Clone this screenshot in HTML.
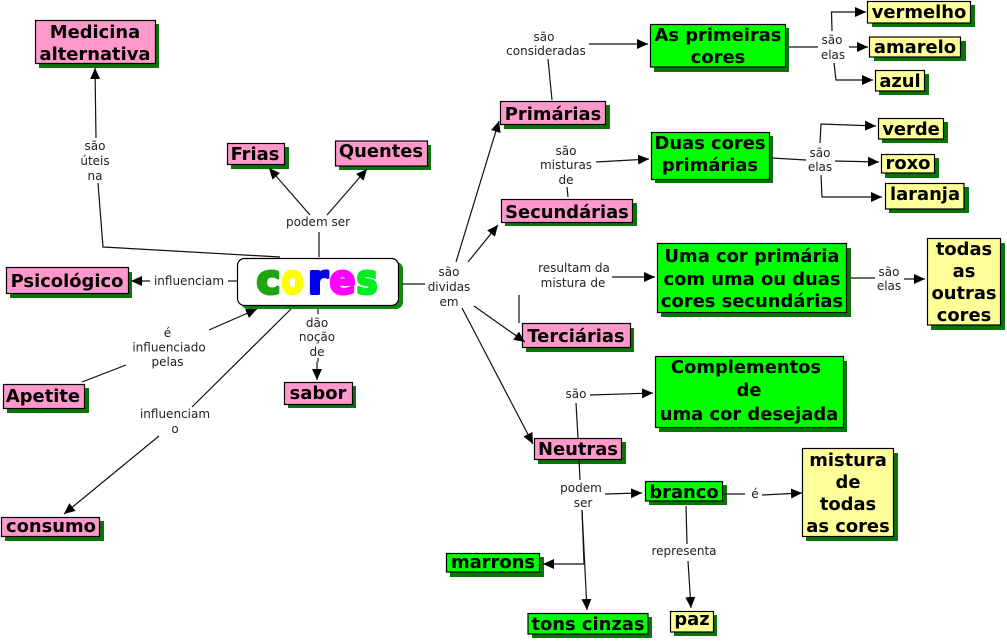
<!DOCTYPE html>
<html><head><meta charset="utf-8"><style>
html,body{margin:0;padding:0;background:#fff;width:1007px;height:641px;overflow:hidden}
svg{display:block}
text{font-family:"DejaVu Sans",sans-serif;text-anchor:middle}
.n{font-size:17.9px;font-weight:bold;fill:#000}
.l{font-size:12px;fill:#222}
.c{stroke:#111;stroke-width:1.2;fill:none}
.a{stroke:#111;stroke-width:1.2;fill:none;marker-end:url(#m)}
.s{fill:#0a730a}
.b{stroke:#000;stroke-width:1.2}
.p{fill:#ff99cc}.g{fill:#00ff00}.y{fill:#ffff99}
.t{stroke-width:3;stroke-linejoin:round}
</style></head><body>
<svg width="1007" height="641" viewBox="0 0 1007 641" xmlns="http://www.w3.org/2000/svg">
<defs><marker id="m" markerWidth="12" markerHeight="11" refX="11" refY="5.5" orient="auto" markerUnits="userSpaceOnUse"><polygon points="0,0.5 11,5.5 0,10.5" fill="#000"/></marker></defs>
<g>
<rect class="s" x="39" y="24" width="120" height="44"/><rect class="b p" x="35.5" y="20.5" width="120" height="43"/>
<rect class="s" x="231" y="147" width="58" height="22"/><rect class="b p" x="227.5" y="143.5" width="57" height="21"/>
<rect class="s" x="339" y="145" width="92" height="25"/><rect class="b p" x="335.5" y="141" width="92" height="25"/>
<rect class="s" x="10" y="272" width="122" height="26"/><rect class="b p" x="6.5" y="267.5" width="122" height="26"/>
<rect class="s" x="7" y="388" width="82" height="25"/><rect class="b p" x="3.5" y="384.5" width="81" height="24"/>
<rect class="s" x="5" y="521" width="99" height="20"/><rect class="b p" x="1.5" y="517.5" width="98" height="19"/>
<rect class="s" x="288" y="386" width="68" height="22"/><rect class="b p" x="284.5" y="382.5" width="68" height="22"/>
<rect class="s" x="504" y="105" width="106" height="24"/><rect class="b p" x="500.5" y="101.5" width="105" height="23"/>
<rect class="s" x="505" y="203" width="132" height="23"/><rect class="b p" x="501.5" y="199.5" width="131" height="23"/>
<rect class="s" x="526" y="328" width="108" height="24"/><rect class="b p" x="522.5" y="323.5" width="108" height="24"/>
<rect class="s" x="538" y="442" width="88" height="22"/><rect class="b p" x="534.5" y="438.5" width="87" height="21"/>
<rect class="s" x="654" y="28" width="135" height="44"/><rect class="b g" x="650.5" y="24.5" width="135" height="42.5"/>
<rect class="s" x="655" y="136" width="118" height="47"/><rect class="b g" x="651.5" y="132.5" width="118" height="47"/>
<rect class="s" x="661" y="248" width="190" height="69"/><rect class="b g" x="657.5" y="243.5" width="189" height="69"/>
<rect class="s" x="659" y="361" width="188" height="71"/><rect class="b g" x="655.5" y="356.5" width="188" height="71"/>
<rect class="s" x="649" y="485" width="78" height="20"/><rect class="b g" x="645.5" y="481.5" width="77" height="19.5"/>
<rect class="s" x="450" y="557" width="94" height="20"/><rect class="b g" x="446.5" y="553.5" width="93" height="18.5"/>
<rect class="s" x="532" y="617" width="120" height="21"/><rect class="b g" x="528" y="613.5" width="120" height="20.5"/>
<rect class="s" x="674" y="615" width="43" height="21"/><rect class="b y" x="670.5" y="611.5" width="43" height="20.5"/>
<rect class="s" x="806" y="453" width="92" height="88"/><rect class="b y" x="802.5" y="448.5" width="91" height="88"/>
<rect class="s" x="872" y="5" width="103" height="22"/><rect class="b y" x="867.5" y="1.5" width="103" height="21.5"/>
<rect class="s" x="874" y="41" width="92" height="20"/><rect class="b y" x="869.5" y="37" width="91" height="20"/>
<rect class="s" x="879" y="74" width="50" height="21"/><rect class="b y" x="875.5" y="70.5" width="49" height="20.5"/>
<rect class="s" x="882" y="122" width="66" height="21"/><rect class="b y" x="878.5" y="118.5" width="65" height="20.5"/>
<rect class="s" x="885" y="158" width="54" height="20"/><rect class="b y" x="881.5" y="154.5" width="53" height="18.5"/>
<rect class="s" x="889" y="187" width="80" height="26"/><rect class="b y" x="885.5" y="183.5" width="78.5" height="25.5"/>
<rect class="s" x="931" y="243" width="74" height="87"/><rect class="b y" x="927.5" y="238.5" width="73" height="86.5"/>
<rect x="241" y="262" width="162" height="47" rx="7" fill="#0f8a0f"/>
<rect x="237.5" y="258.5" width="161" height="47" rx="7" fill="#fff" stroke="#000" stroke-width="1.2"/>
</g>
<g style="font-size:40px;font-weight:bold">
<text class="t" x="268.5" y="293.5" textLength="24" lengthAdjust="spacingAndGlyphs" style="fill:#1ea50f;stroke:#1ea50f">c</text>
<text class="t" x="292.5" y="293.5" textLength="22" lengthAdjust="spacingAndGlyphs" style="fill:#ffff00;stroke:#ffff00">o</text>
<text class="t" x="318" y="293.5" textLength="20" lengthAdjust="spacingAndGlyphs" style="fill:#0000ee;stroke:#0000ee">r</text>
<text class="t" x="342.5" y="293.5" textLength="26" lengthAdjust="spacingAndGlyphs" style="fill:#ff00ff;stroke:#ff00ff">e</text>
<text class="t" x="367" y="293.5" textLength="21" lengthAdjust="spacingAndGlyphs" style="fill:#00ee22;stroke:#00ee22">s</text>
</g>
<g class="c">
<path d="M280 257L103 247L98 183"/><path d="M319 257V232"/>
<path d="M237 281H228"/><path d="M82 382L126 365"/>
<path d="M291 309L192 407"/><path d="M318 309V314"/><path d="M318 358V362"/>
<path d="M402 284H425"/>
<path d="M552 100L548 59"/><path d="M568 197L567 187"/><path d="M519 323V295"/>
<path d="M578 438L576 403"/><path d="M579 459L580 480"/>
<path d="M582 510L584 564"/>
<path d="M686 506L687 544"/><path d="M724 494H745"/>
<path d="M789 47H818"/><path d="M772 158L806 160"/><path d="M851 278H875"/>
</g>
<g class="a">
<path d="M96 138L95 68"/><path d="M310 215L269 168"/><path d="M327 215L367 169"/>
<path d="M150 281H131"/>
<path d="M209 330L257 309"/><path d="M159 436L64 514"/><path d="M317 362V380"/>
<path d="M456 262L499 121"/><path d="M468 262L498 225"/><path d="M474 306L525 342"/><path d="M462 308L533 444"/>
<path d="M589 44H648"/><path d="M596 162L649 159"/><path d="M612 277H655"/><path d="M590 395L653 393"/>
<path d="M605 494L642 493"/><path d="M582 510L587 610"/><path d="M584 564H543"/>
<path d="M688 561L691 608"/><path d="M762 495L802 493"/>
<path d="M832 31L831.5 12H866"/><path d="M849 47H868"/><path d="M834 63L836 80H873"/>
<path d="M820 143L821 124L876 126"/><path d="M835 161L879 162"/><path d="M821 175L822 197H882"/>
<path d="M904 279H925"/>
</g>
<g class="n">
<text x="95" y="38">Medicina</text><text x="95" y="60">alternativa</text>
<text x="255" y="160">Frias</text><text x="381" y="157">Quentes</text>
<text x="67" y="287">Psicológico</text><text x="43" y="402">Apetite</text>
<text x="51" y="532">consumo</text><text x="318" y="399">sabor</text>
<text x="553" y="120">Primárias</text><text x="567" y="218">Secundárias</text>
<text x="576" y="342">Terciárias</text><text x="578" y="455">Neutras</text>
<text x="718" y="41">As primeiras</text><text x="718" y="63">cores</text>
<text x="710" y="149">Duas cores</text><text x="710" y="171">primárias</text>
<text x="752" y="262">Uma cor primária</text><text x="752" y="285">com uma ou duas</text><text x="752" y="307">cores secundárias</text>
<text x="746" y="373">Complementos</text><text x="749" y="396">de</text><text x="749" y="420">uma cor desejada</text>
<text x="684" y="498">branco</text><text x="493" y="568">marrons</text><text x="588" y="630">tons cinzas</text>
<text x="692" y="625">paz</text>
<text x="848" y="466">mistura</text><text x="848" y="488">de</text><text x="848" y="510">todas</text><text x="848" y="532">as cores</text>
<text x="919" y="18">vermelho</text><text x="915" y="53">amarelo</text><text x="900" y="87">azul</text>
<text x="911" y="135">verde</text><text x="908" y="169">roxo</text><text x="925" y="200">laranja</text>
<text x="964" y="255">todas</text><text x="964" y="277">as</text><text x="964" y="299">outras</text><text x="964" y="321">cores</text>
</g>
<g class="l">
<text x="95" y="150">são</text><text x="95" y="165">úteis</text><text x="95" y="180">na</text>
<text x="318" y="226">podem ser</text>
<text x="189" y="285">influenciam</text>
<text x="167.5" y="337">é</text><text x="169" y="351.5">influenciado</text><text x="167.5" y="366">pelas</text>
<text x="175" y="418">influenciam</text><text x="175" y="433">o</text>
<text x="317" y="327">dão</text><text x="317" y="341">noção</text><text x="317" y="356">de</text>
<text x="449" y="276">são</text><text x="449" y="291">dividas</text><text x="449" y="306">em</text>
<text x="544" y="41">são</text><text x="546" y="55">consideradas</text>
<text x="566" y="155">são</text><text x="566" y="169">misturas</text><text x="566" y="184">de</text>
<text x="574" y="272">resultam da</text><text x="573" y="287">mistura de</text>
<text x="576" y="398">são</text>
<text x="581" y="492">podem</text><text x="583" y="507">ser</text>
<text x="684" y="555">representa</text><text x="755" y="498">é</text>
<text x="832" y="44">são</text><text x="833" y="59">elas</text>
<text x="820" y="157">são</text><text x="820" y="171">elas</text>
<text x="889" y="276">são</text><text x="889" y="290">elas</text>
</g>
</svg>
</body></html>
